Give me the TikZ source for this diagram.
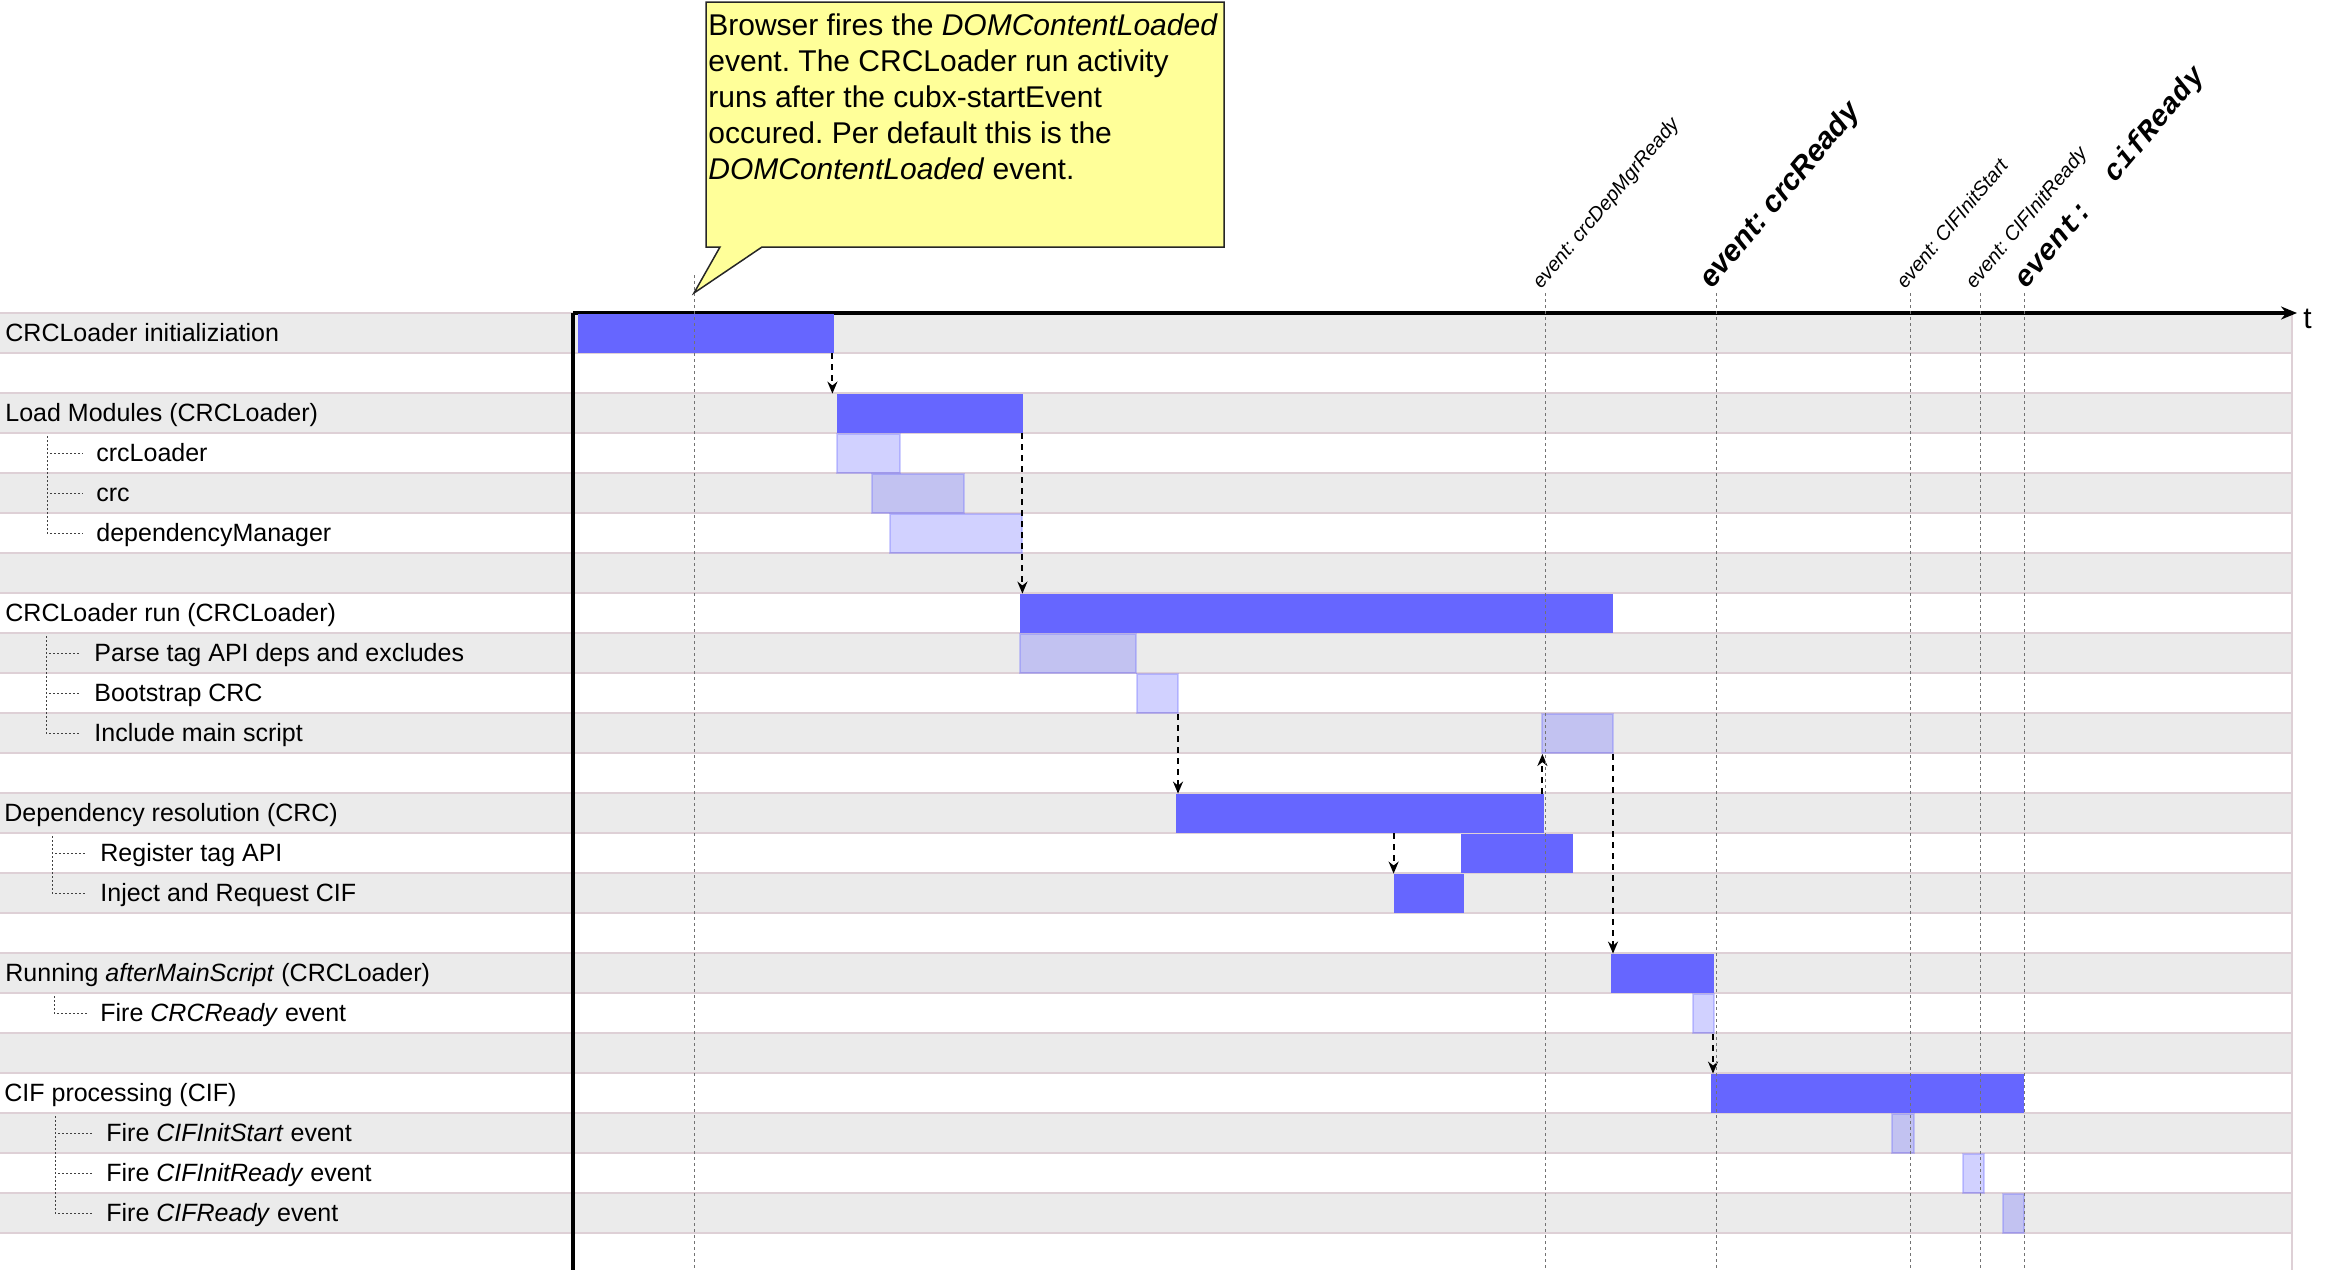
\documentclass[tikz,border=0pt]{standalone}
\usepackage{fontspec}
\setmainfont{Liberation Sans}
\setmonofont{Liberation Mono}
\usetikzlibrary{arrows.meta,fit}
\frenchspacing
\definecolor{barblue}{RGB}{102,102,255}
\definecolor{rowgray}{RGB}{235,235,235}
\definecolor{rowline}{RGB}{222,208,214}
\definecolor{noteyellow}{RGB}{255,255,153}
\tikzset{
  mainbar/.style={fill=barblue, draw=none, inner sep=0pt},
  subbar/.style={fill=barblue, fill opacity=0.3, draw=barblue, draw opacity=0.3, line width=1pt, inner sep=0pt},
  task/.style={anchor=west, inner sep=0pt, text height=11pt, text depth=3pt, font=\fontsize{12.5}{15}\selectfont},
  tree/.style={draw=black!75, line width=0.5pt, dash pattern=on 1pt off 1pt},
  dep/.style={draw=black, line width=1pt, dash pattern=on 3pt off 2.5pt, -{Stealth[length=6pt,width=5pt]}},
  evline/.style={draw=black!55, line width=0.5pt, dash pattern=on 1.5pt off 1.5pt},
  evsmall/.style={anchor=base west, rotate=50, inner sep=0pt, font=\itshape\fontsize{10}{12}\selectfont},
  evbig/.style={anchor=base west, rotate=50, inner sep=0pt, font=\bfseries\itshape\fontsize{15}{18}\selectfont},
  evmono/.style={anchor=base west, rotate=50, inner sep=0pt, font=\ttfamily\bfseries\itshape\fontsize{14.5}{18}\selectfont}
}

\begin{document}
\begin{tikzpicture}[x=0.5pt, y=-0.5pt]
  \useasboundingbox (0,0) rectangle (2335,1270);

  % rows of the chart
  \foreach \r in {0,2,...,22}
    \fill[rowgray] (0,{313+40*\r}) rectangle (2292,{353+40*\r});
  \foreach \r in {0,...,23}
    \draw[rowline, line width=0.8pt] (0,{313+40*\r}) -- (2292,{313+40*\r});
  \draw[rowline, line width=0.8pt] (2292,313) -- (2292,1270);

  % time axis
  \coordinate (o) at (573,313);
  \coordinate (tend) at (2297,313);
  \coordinate (ybot) at (573,1270);
  \draw[line width=1.8pt, -{Stealth[length=8pt,width=6.5pt]}] (o) -- (tend);
  \draw[line width=1.8pt] (o) -- (ybot);
  \node[anchor=base west, inner sep=0pt, font=\fontsize{15}{18}\selectfont] (tlab) at (2303,328) {t};

  % activity names
  \node[task] (init-l) at (5,333) {CRCLoader initializiation};
  \node[task] (load-l) at (5,413) {Load Modules (CRCLoader)};
  \node[task] (crcl-l) at (96,453) {crcLoader};
  \node[task] (crc-l) at (96,493) {crc};
  \node[task] (dm-l) at (96,533) {dependencyManager};
  \node[task] (run-l) at (5,613) {CRCLoader run (CRCLoader)};
  \node[task] (parse-l) at (94,653) {Parse tag API deps and excludes};
  \node[task] (boot-l) at (94,693) {Bootstrap CRC};
  \node[task] (incl-l) at (94,733) {Include main script};
  \node[task] (depres-l) at (4,813) {Dependency resolution (CRC)};
  \node[task] (reg-l) at (100,853) {Register tag API};
  \node[task] (inj-l) at (100,893) {Inject and Request CIF};
  \node[task] (amain-l) at (5,973) {Running \textit{afterMainScript} (CRCLoader)};
  \node[task] (fcrc-l) at (100,1013) {Fire \textit{CRCReady} event};
  \node[task] (cif-l) at (4,1093) {CIF processing (CIF)};
  \node[task] (fstart-l) at (106,1133) {Fire \textit{CIFInitStart} event};
  \node[task] (finit-l) at (106,1173) {Fire \textit{CIFInitReady} event};
  \node[task] (fready-l) at (106,1213) {Fire \textit{CIFReady} event};

  % sub activity tree
  \coordinate (lmroot) at (47,436);
  \coordinate (runroot) at (46,636);
  \coordinate (deproot) at (52,836);
  \coordinate (amroot) at (54,996);
  \coordinate (cifroot) at (55,1116);
  \draw[tree] (lmroot) |- ([xshift=-6.5pt]crcl-l.west);
  \draw[tree] (lmroot) |- ([xshift=-6.5pt]crc-l.west);
  \draw[tree] (lmroot) |- ([xshift=-6.5pt]dm-l.west);
  \draw[tree] (runroot) |- ([xshift=-6.5pt]parse-l.west);
  \draw[tree] (runroot) |- ([xshift=-6.5pt]boot-l.west);
  \draw[tree] (runroot) |- ([xshift=-6.5pt]incl-l.west);
  \draw[tree] (deproot) |- ([xshift=-6.5pt]reg-l.west);
  \draw[tree] (deproot) |- ([xshift=-6.5pt]inj-l.west);
  \draw[tree] (amroot) |- ([xshift=-6.5pt]fcrc-l.west);
  \draw[tree] (cifroot) |- ([xshift=-6.5pt]fstart-l.west);
  \draw[tree] (cifroot) |- ([xshift=-6.5pt]finit-l.west);
  \draw[tree] (cifroot) |- ([xshift=-6.5pt]fready-l.west);

  % bars
  \node[mainbar, fit={(578,314) (834,353)}] (init) {};
  \node[mainbar, fit={(837,394) (1023,433)}] (load) {};
  \node[subbar, fit={(837,434) (900,473)}] (crcl) {};
  \node[subbar, fit={(872,474) (964,513)}] (crc) {};
  \node[subbar, fit={(890,514) (1022,553)}] (dm) {};
  \node[mainbar, fit={(1020,594) (1613,633)}] (run) {};
  \node[subbar, fit={(1020,634) (1136,673)}] (parse) {};
  \node[subbar, fit={(1137,674) (1178,713)}] (boot) {};
  \node[subbar, fit={(1542,714) (1613,753)}] (incl) {};
  \node[mainbar, fit={(1176,794) (1544,833)}] (depres) {};
  \node[mainbar, fit={(1461,834) (1573,873)}] (reg) {};
  \node[mainbar, fit={(1394,874) (1464,913)}] (inj) {};
  \node[mainbar, fit={(1611,954) (1714,993)}] (amain) {};
  \node[subbar, fit={(1693,994) (1714,1033)}] (fcrc) {};
  \node[mainbar, fit={(1711,1074) (2024,1113)}] (cif) {};
  \node[subbar, fit={(1892,1114) (1914,1153)}] (fstart) {};
  \node[subbar, fit={(1963,1154) (1984,1193)}] (finit) {};
  \node[subbar, fit={(2003,1194) (2024,1233)}] (fready) {};

  % dependencies
  \draw[dep] ([xshift=-1pt]init.south east) -- ([xshift=-1pt]init.south east |- load.north);
  \draw[dep] ([xshift=-0.5pt]load.south east) -- ([xshift=-0.5pt]load.south east |- run.north);
  \draw[dep] ([xshift=-0.5pt]boot.south east) -- ([xshift=-0.5pt]boot.south east |- depres.north);
  \draw[dep] (inj.north west |- depres.south) -- (inj.north west);
  \draw[dep] ([xshift=-1pt]depres.north east) -- ([xshift=-1pt]depres.north east |- incl.south);
  \draw[dep] ([xshift=-0.5pt]incl.south east) -- ([xshift=-0.5pt]incl.south east |- amain.north);
  \draw[dep] ([xshift=-1pt]fcrc.south east) -- ([xshift=-1pt]fcrc.south east |- cif.north);

  % events
  \coordinate (dom) at (694,275);
  \coordinate (ev1) at (1545,293);
  \coordinate (ev2) at (1716,293);
  \coordinate (ev3) at (1910,293);
  \coordinate (ev4) at (1980,293);
  \coordinate (ev5) at (2024,293);
  \foreach \e in {dom,ev1,ev2,ev3,ev4,ev5}
    \draw[evline] (\e) -- (\e |- ybot);
  \node[evsmall] (ev1-l) at (1541,290) {event: crcDepMgrReady};
  \node[evbig] (ev2-l) at (1712,290) {event: crcReady};
  \node[evsmall] (ev3-l) at (1905,290) {event: CIFInitStart};
  \node[evsmall] (ev4-l) at (1974,290) {event: CIFInitReady};
  \node[evmono] (ev5-l) at (2026,290) {event:\ \ cifReady};

  % note
  \draw[fill=noteyellow, draw=black!85, line width=0.75pt]
    (706,2) -- (1224,2) -- (1224,247) -- (762,247) -- (694,293) -- (720,247) -- (706,247) -- cycle;
  \node[anchor=north west, inner sep=0pt, align=left, font=\fontsize{15}{18}\selectfont] (note) at (708,13)
    {Browser fires the \textit{DOMContentLoaded}\\event. The CRCLoader run activity\\runs after the cubx-startEvent\\occured. Per default this is the\\\textit{DOMContentLoaded} event.};
\end{tikzpicture}
\end{document}
